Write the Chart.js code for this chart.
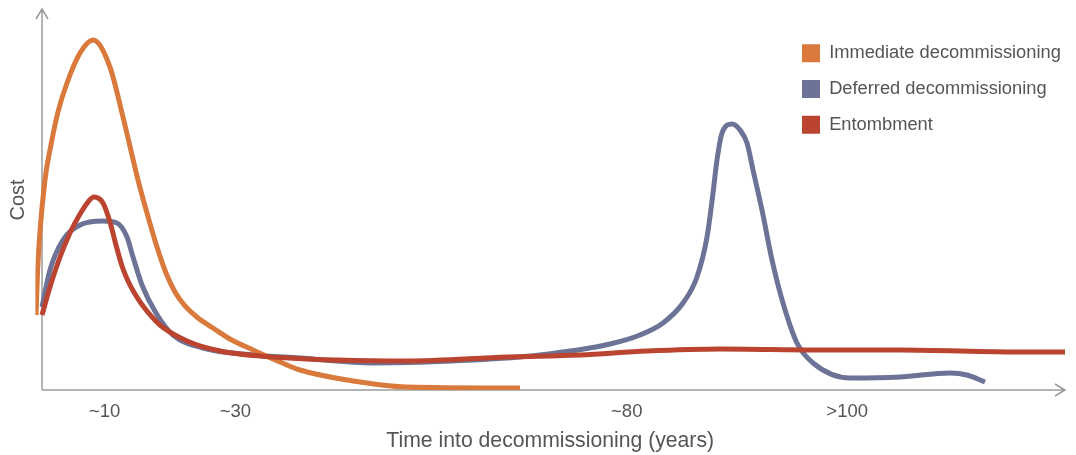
<!DOCTYPE html>
<html>
<head>
<meta charset="utf-8">
<script src="https://cdn.jsdelivr.net/npm/chart.js@4.4.1/dist/chart.umd.min.js"></script>
<style>
  html, body { margin: 0; padding: 0; background: #ffffff; }
  #wrap { position: relative; width: 1076px; height: 455px; }
</style>
</head>
<body>
<div id="wrap"><canvas id="c"></canvas></div>
<script>
// ---- Data (x: time position along the schematic axis, y: relative cost) ----
const seriesNames = ['Immediate decommissioning', 'Deferred decommissioning', 'Entombment'];

const immediateTime = [-0.91, -0.61, 0.45, 1.21, 2.42, 3.79, 5.76, 7.73, 10.3, 12.27, 14.55, 15.91, 17.42, 18.79, 20.15, 21.67, 23.64, 25.91, 28.48, 31.97, 36.06, 39.09, 46.21, 55.3, 72.42];
const immediateCost = [19.74, 33.42, 55.26, 63.16, 73.16, 80.79, 88.68, 92.11, 84.99, 71.84, 55.26, 46.58, 37.63, 30.79, 25.79, 22.11, 18.95, 16.32, 13.42, 10.53, 7.37, 5.26, 2.63, 0.79, 0.53];

const deferredTime = [0, 1.21, 3.18, 5.76, 9.24, 11.36, 12.88, 13.79, 15.15, 17.27, 19.85, 24.39, 31.97, 39.09, 50.15, 65.3, 75.45, 86.06, 90.61, 94.09, 97.12, 99.24, 100.76, 101.67, 102.27, 103.03, 104.55, 105.76, 106.82, 107.73, 109.09, 110.61, 112.27, 114.39, 116.82, 122.42, 130.0, 137.58, 140.15, 142.88];
const deferredCost = [21.84, 31.58, 39.47, 43.42, 44.47, 43.95, 40.26, 35.0, 27.63, 20.26, 14.47, 11.05, 9.21, 8.42, 7.11, 7.89, 9.21, 12.11, 14.47, 17.63, 22.89, 29.74, 40.26, 51.84, 60.53, 67.63, 70.0, 68.42, 65.0, 57.89, 47.37, 34.21, 22.89, 12.37, 7.11, 3.16, 3.42, 4.47, 3.95, 2.11];

const entombmentTime = [0, 1.21, 2.73, 4.24, 5.76, 6.97, 7.88, 9.24, 10.3, 11.21, 12.12, 13.03, 14.09, 15.3, 17.88, 21.97, 26.97, 36.06, 55.3, 70.45, 81.52, 91.67, 102.73, 117.88, 130.0, 148.18, 155.0];
const entombmentCost = [19.74, 27.11, 35.0, 41.32, 46.32, 49.47, 50.79, 49.21, 44.21, 38.16, 32.63, 28.68, 25.26, 22.11, 17.11, 12.89, 10.26, 8.55, 7.63, 8.68, 9.21, 10.26, 10.79, 10.53, 10.53, 10.0, 10.0];

const tickTimes  = [9.5, 29.3, 88.6, 122];
const tickLabels = ['~10', '~30', '~80', '>100'];

const seriesColors = ['#D9793B', '#6C7396', '#BA4430'];
const textColor = '#555555';
const axisColor = '#9a9a9a';
const FONT = '"Liberation Sans", Arial, Helvetica, sans-serif';

function pts(xs, ys) { return xs.map((x, i) => ({ x: x, y: ys[i] })); }

// Draw the arrowed axes through the scales
const arrowAxes = {
  id: 'arrowAxes',
  beforeDatasetsDraw(chart) {
    const { ctx, chartArea, scales } = chart;
    const x0 = scales.x.getPixelForValue(0);
    const y0 = scales.y.getPixelForValue(0);
    const top = chartArea.top - 1;
    const right = chartArea.right;
    ctx.save();
    ctx.strokeStyle = axisColor;
    ctx.lineWidth = 1.5;
    ctx.beginPath();
    ctx.moveTo(x0, y0); ctx.lineTo(x0, top);
    ctx.moveTo(x0 - 6, top + 10); ctx.lineTo(x0, top); ctx.lineTo(x0 + 6, top + 10);
    ctx.moveTo(x0, y0); ctx.lineTo(right, y0);
    ctx.moveTo(right - 10, y0 - 6); ctx.lineTo(right, y0); ctx.lineTo(right - 10, y0 + 6);
    ctx.stroke();
    ctx.restore();
  }
};

// Place the built-in legend at the top right inside the plot
const legendPlacer = {
  id: 'legendPlacer',
  afterLayout(chart) {
    const lg = chart.legend;
    if (!lg) return;
    const pad = lg.options.labels.padding;
    lg.left = 802 - pad;
    lg.top = 44 - pad;
    lg.right = chart.width;
    lg.bottom = chart.chartArea.bottom;
    lg.width = lg.right - lg.left;
    lg.height = lg.bottom - lg.top;
  }
};

const lineDefaults = { borderWidth: 5, pointRadius: 0, pointHoverRadius: 0, fill: false, cubicInterpolationMode: 'monotone' };

new Chart(document.getElementById('c'), {
  type: 'line',
  data: {
    datasets: [
      Object.assign({ label: seriesNames[0], data: pts(immediateTime, immediateCost), borderColor: seriesColors[0], backgroundColor: seriesColors[0], order: 1 }, lineDefaults),
      Object.assign({ label: seriesNames[1], data: pts(deferredTime, deferredCost), borderColor: seriesColors[1], backgroundColor: seriesColors[1], order: 2 }, lineDefaults),
      Object.assign({ label: seriesNames[2], data: pts(entombmentTime, entombmentCost), borderColor: seriesColors[2], backgroundColor: seriesColors[2], order: 0 }, lineDefaults)
    ]
  },
  options: {
    responsive: true,
    maintainAspectRatio: false,
    animation: false,
    events: [],
    layout: { padding: { left: 2, right: 11, top: 10, bottom: 0 } },
    scales: {
      x: {
        type: 'linear',
        min: -1,
        max: 155,
        grid: { display: false, drawTicks: false },
        border: { display: false },
        afterBuildTicks(scale) { scale.ticks = tickTimes.map(v => ({ value: v })); },
        afterFit(scale) { scale.height = 65; },
        ticks: {
          autoSkip: false,
          maxRotation: 0,
          padding: 11,
          color: textColor,
          font: { family: FONT, size: 18.5 },
          callback: (v, i) => tickLabels[i]
        },
        title: {
          display: true,
          text: 'Time into decommissioning (years)',
          color: textColor,
          font: { family: FONT, size: 21.2 },
          padding: { top: 4, bottom: 1 }
        }
      },
      y: {
        min: 0,
        max: 100,
        grid: { display: false, drawTicks: false },
        border: { display: false },
        ticks: { display: false },
        afterFit(scale) { scale.width = 33.4; },
        title: {
          display: true,
          text: 'Cost',
          color: textColor,
          font: { family: FONT, size: 20 },
          padding: { top: 4, bottom: 4 }
        }
      }
    },
    plugins: {
      tooltip: { enabled: false },
      legend: {
        position: 'chartArea',
        align: 'start',
        labels: {
          boxWidth: 18,
          boxHeight: 18,
          padding: 17.5,
          color: textColor,
          font: { family: FONT, size: 18.3 },
          sort: (a, b) => a.datasetIndex - b.datasetIndex,
          generateLabels(chart) {
            return chart.data.datasets.map((ds, i) => ({
              text: ds.label,
              fillStyle: ds.borderColor,
              strokeStyle: ds.borderColor,
              lineWidth: 0,
              fontColor: textColor,
              hidden: false,
              datasetIndex: i
            }));
          }
        }
      }
    }
  },
  plugins: [arrowAxes, legendPlacer]
});
</script>
</body>
</html>
